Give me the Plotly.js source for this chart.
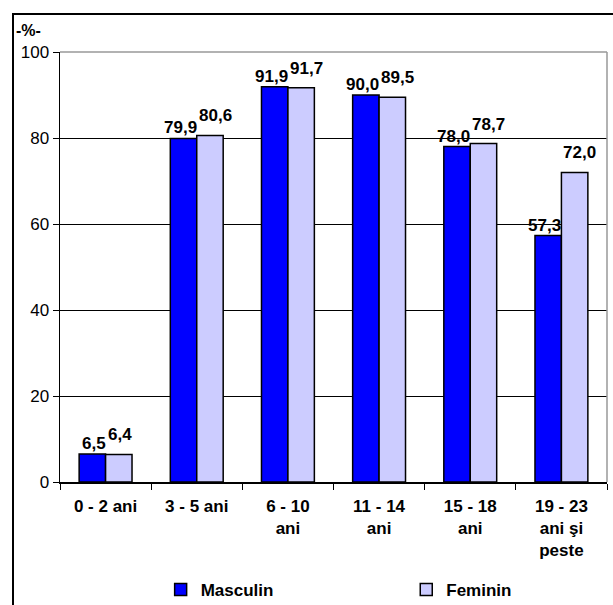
<!DOCTYPE html>
<html><head><meta charset="utf-8">
<script src="https://cdn.plot.ly/plotly-3.0.1.min.js"></script>
<style>
body{margin:0;padding:0;background:#fff;}
#frame{position:absolute;left:12px;top:13px;width:620px;height:610px;border:2px solid #000;box-sizing:border-box;}
#plot{position:absolute;left:0;top:0;width:613px;height:605px;}
</style>
</head><body>
<div id="frame"></div>
<div id="plot"></div>
<script>
var categories = ["0 - 2 ani", "3 - 5 ani", "6 - 10<br>ani", "11 - 14<br>ani", "15 - 18<br>ani", "19 - 23<br>ani şi<br>peste"];
var masculin = [6.5, 79.9, 91.9, 90.0, 78.0, 57.3];
var feminin = [6.4, 80.6, 91.7, 89.5, 78.7, 72.0];
var yTicks = [0, 20, 40, 60, 80, 100];

function fmt(v){ return v.toFixed(1).replace('.', ','); }

var FF = '"Liberation Sans", Arial, sans-serif';
var labelFont = {family: FF, size: 17, color: '#000', weight: 'bold'};

var traces = [
  {type:'bar', name:'Masculin', x:categories, y:masculin,
   marker:{color:'#0000FF', line:{color:'#000', width:1.5}}, legend:'legend'},
  {type:'bar', name:'Feminin', x:categories, y:feminin,
   marker:{color:'#CCCCFF', line:{color:'#000', width:1.5}}, legend:'legend2'}
];

var annotations = [
  {text:'<b>-%-</b>', xref:'paper', yref:'paper', x:-0.085, y:1.025, xanchor:'left', yanchor:'bottom',
   showarrow:false, font:{family:FF, size:16, color:'#000'}}
];
categories.forEach(function(c, i){
  annotations.push({x:c, y:masculin[i], xref:'x', yref:'y', text:fmt(masculin[i]), showarrow:false,
    xanchor:'right', yanchor:'bottom', xshift:1, yshift:0, font:labelFont, borderpad:0});
  annotations.push({x:c, y:feminin[i], xref:'x', yref:'y', text:fmt(feminin[i]), showarrow:false,
    xanchor:'left', yanchor:'bottom', xshift:1, yshift:9, font:labelFont, borderpad:0});
});

var legendBase = {orientation:'h', xanchor:'left', y:-0.251, yanchor:'middle',
  font:{family:FF, size:17, weight:'bold', color:'#000'}, bgcolor:'rgba(0,0,0,0)'};

var layout = {
  width:613, height:605,
  margin:{l:60, r:6, t:52, b:123, autoexpand:false},
  paper_bgcolor:'rgba(0,0,0,0)', plot_bgcolor:'#fff',
  barmode:'group', bargap:0.42, bargroupgap:0,
  font:{family:FF, color:'#000'},
  showlegend:true,
  legend:Object.assign({}, legendBase, {x:0.184}),
  legend2:Object.assign({}, legendBase, {x:0.633}),
  xaxis:{type:'category', tickson:'boundaries', ticks:'outside', ticklen:6, tickcolor:'#000',
         showline:true, linecolor:'#000', linewidth:1.5, showgrid:false, ticklabelstandoff:8,
         tickfont:{family:FF, size:17, weight:'bold', color:'#000'}},
  yaxis:{range:[0,100], tickvals:yTicks, ticks:'outside', ticklen:6, tickcolor:'#000',
         showline:true, linecolor:'#000', linewidth:1.5, showgrid:true, gridcolor:'#000', gridwidth:1,
         zeroline:false, tickfont:{family:FF, size:17, color:'#000'}},
  shapes:[
    {type:'line', xref:'paper', yref:'paper', x0:0, x1:1, y0:1, y1:1, line:{color:'#999', width:1.5}},
    {type:'line', xref:'paper', yref:'paper', x0:1, x1:1, y0:0, y1:1, line:{color:'#999', width:1.5}}
  ],
  annotations:annotations
};

Plotly.newPlot('plot', traces, layout, {displayModeBar:false, staticPlot:true});
</script>
</body></html>
